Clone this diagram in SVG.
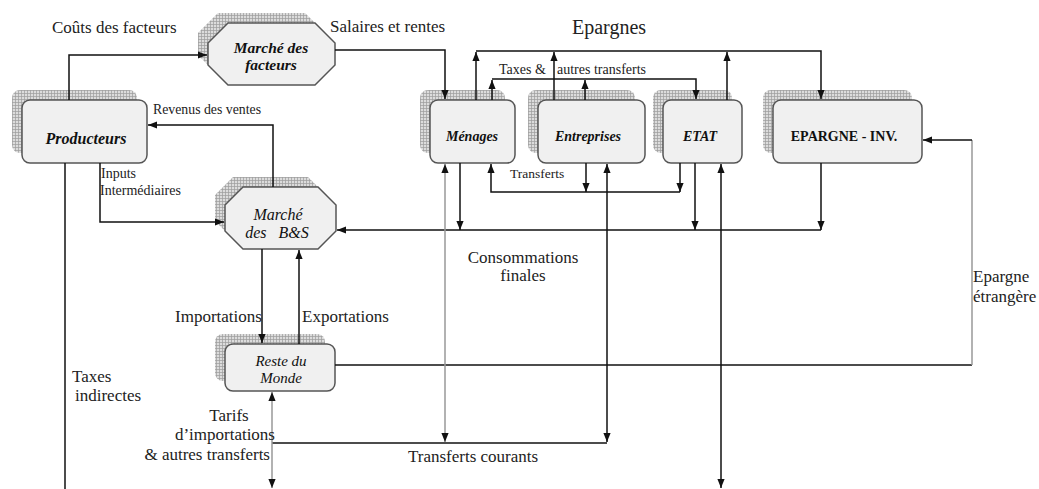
<svg xmlns="http://www.w3.org/2000/svg" width="1039" height="489" viewBox="0 0 1039 489">
<style>
.box{fill:#f0f0f0;stroke:#555;stroke-width:1.5}
.sh{fill:url(#grid)}
.nt{font-family:"Liberation Serif",serif;font-weight:bold;font-style:italic;font-size:14px;text-anchor:middle;fill:#111}
.ni{font-family:"Liberation Serif",serif;font-style:italic;font-size:14px;text-anchor:middle;fill:#111}
.lbl{font-family:"Liberation Serif",serif;fill:#222}
.c{fill:none;stroke:#111;stroke-width:1.5}
.g{fill:none;stroke:#999;stroke-width:1.5}
</style>
<defs>
<pattern id="grid" width="3" height="3" patternUnits="userSpaceOnUse">
<rect width="3" height="3" fill="#dcdcdc"/>
<path d="M0,0.5 H3 M0.5,0 V3" stroke="#9c9c9c" stroke-width="0.7"/>
</pattern>
<marker id="a" viewBox="0 0 10 10" markerUnits="userSpaceOnUse" markerWidth="9" markerHeight="9" refX="10" refY="5" orient="auto-start-reverse">
<path d="M0,1 L10,5 L0,9 z" fill="#111"/>
</marker>
</defs>
<rect width="1039" height="489" fill="#fff"/>

<g id="producteurs">
<rect class="sh" x="12" y="90" width="125" height="63" rx="8"/>
<rect class="box" x="22" y="100" width="125" height="63" rx="8"/>
<text class="nt" x="86" y="144" style="font-size:16px">Producteurs</text>
</g>

<g id="marche-facteurs">
<polygon class="sh" points="218,13 305,13 325,33 325,55 305,75 218,75 198,55 198,33"/>
<polygon class="box" points="228,23 315,23 335,43 335,65 315,85 228,85 208,65 208,43"/>
<text class="nt" x="271" y="53" style="font-size:15.5px">Marché des</text>
<text class="nt" x="271" y="70" style="font-size:15.5px">facteurs</text>
</g>

<g id="menages">
<rect class="sh" x="420" y="90" width="85" height="63" rx="8"/>
<rect class="box" x="430" y="100" width="85" height="63" rx="8"/>
<text class="nt" x="472" y="141">Ménages</text>
</g>

<g id="entreprises">
<rect class="sh" x="528" y="90" width="107" height="63" rx="8"/>
<rect class="box" x="538" y="100" width="107" height="63" rx="8"/>
<text class="nt" x="588" y="141">Entreprises</text>
</g>

<g id="etat">
<rect class="sh" x="653" y="90" width="79" height="63" rx="8"/>
<rect class="box" x="663" y="100" width="79" height="63" rx="8"/>
<text class="nt" x="700" y="141">ETAT</text>
</g>

<g id="epargne-inv">
<rect class="sh" x="763" y="90" width="149" height="63" rx="8"/>
<rect class="box" x="773" y="100" width="149" height="63" rx="8"/>
<text class="nt" x="844" y="141" style="font-style:normal">EPARGNE - INV.</text>
</g>

<g id="marche-bs">
<polygon class="sh" points="233,177 308,177 326,195 326,221 308,239 233,239 215,221 215,195"/>
<polygon class="box" points="243,187 318,187 336,205 336,231 318,249 243,249 225,231 225,205"/>
<text class="ni" x="278" y="220" style="font-size:16px">Marché</text>
<text class="ni" x="277" y="238" style="font-size:16px" xml:space="preserve">des   B&amp;S</text>
</g>

<g id="reste-du-monde">
<rect class="sh" x="215" y="334" width="110" height="47" rx="8"/>
<rect class="box" x="225" y="344" width="110" height="47" rx="8"/>
<text class="ni" x="281" y="366" style="font-size:15px">Reste du</text>
<text class="ni" x="281" y="383" style="font-size:15px">Monde</text>
</g>

<g id="connectors">
<path class="c" d="M69,100 V55 H207" marker-end="url(#a)"/>
<path class="c" d="M335,50 H445 V99" marker-end="url(#a)"/>
<path class="c" d="M476,51 H821 V99" marker-end="url(#a)"/>
<path class="c" d="M476,100 V52" marker-end="url(#a)"/>
<path class="c" d="M554,100 V52" marker-end="url(#a)"/>
<path class="c" d="M727,100 V52" marker-end="url(#a)"/>
<path class="c" d="M492,79 H696 V99" marker-end="url(#a)"/>
<path class="c" d="M492,100 V80" marker-end="url(#a)"/>
<path class="c" d="M585,100 V80" marker-end="url(#a)"/>
<path class="c" d="M680,192 H491 V164" marker-end="url(#a)"/>
<path class="c" d="M680,163 V192" marker-end="url(#a)"/>
<path class="c" d="M586,163 V192" marker-end="url(#a)"/>
<path class="c" d="M821,230 H337" marker-end="url(#a)"/>
<path class="c" d="M460,163 V230" marker-end="url(#a)"/>
<path class="c" d="M695,163 V230" marker-end="url(#a)"/>
<path class="c" d="M821,163 V230" marker-end="url(#a)"/>
<path class="c" d="M273,187 V125 H148" marker-end="url(#a)"/>
<path class="c" d="M100,163 V222 H224" marker-end="url(#a)"/>
<path class="c" d="M262,249 V343" marker-end="url(#a)"/>
<path class="c" d="M299,344 V250" marker-end="url(#a)"/>
<path class="c" d="M335,365 H972"/>
<path class="g" d="M972,365 V140"/>
<path class="c" d="M972,140 H923" marker-end="url(#a)"/>
<path class="g" d="M445,442 V164" marker-start="url(#a)" marker-end="url(#a)"/>
<path class="c" d="M607,442 V164" marker-start="url(#a)" marker-end="url(#a)"/>
<path class="c" d="M272,443 H607"/>
<path class="g" d="M272,488 V392" marker-start="url(#a)" marker-end="url(#a)"/>
<path class="c" d="M721,488 V164" marker-start="url(#a)" marker-end="url(#a)"/>
<path class="c" d="M65,163 V489"/>
</g>

<g id="labels">
<text class="lbl" x="52" y="33" font-size="17">Coûts des facteurs</text>
<text class="lbl" x="330" y="32" font-size="17">Salaires et rentes</text>
<text class="lbl" x="572" y="34" font-size="20">Epargnes</text>
<text class="lbl" x="153" y="114" font-size="13.8">Revenus des ventes</text>
<text class="lbl" x="101" y="178" font-size="14">Inputs</text>
<text class="lbl" x="100" y="195" font-size="14">Intermédiaires</text>
<text class="lbl" x="499" y="74" font-size="14">Taxes &amp;</text>
<text class="lbl" x="557" y="74" font-size="14">autres transferts</text>
<text class="lbl" x="510" y="178" font-size="13.5">Transferts</text>
<text class="lbl" x="523" y="263" font-size="17" text-anchor="middle">Consommations</text>
<text class="lbl" x="523" y="281" font-size="17" text-anchor="middle">finales</text>
<text class="lbl" x="175" y="322" font-size="17">Importations</text>
<text class="lbl" x="302" y="322" font-size="17">Exportations</text>
<text class="lbl" x="72" y="382" font-size="17">Taxes</text>
<text class="lbl" x="75" y="401" font-size="17">indirectes</text>
<text class="lbl" x="229" y="421" font-size="17" text-anchor="middle">Tarifs</text>
<text class="lbl" x="275" y="440" font-size="17" text-anchor="end">d’importations</text>
<text class="lbl" x="270" y="460" font-size="17" text-anchor="end">&amp; autres transferts</text>
<text class="lbl" x="408" y="462" font-size="17">Transferts courants</text>
<text class="lbl" x="973" y="282" font-size="17">Epargne</text>
<text class="lbl" x="973" y="302" font-size="17">étrangère</text>
</g>
</svg>
